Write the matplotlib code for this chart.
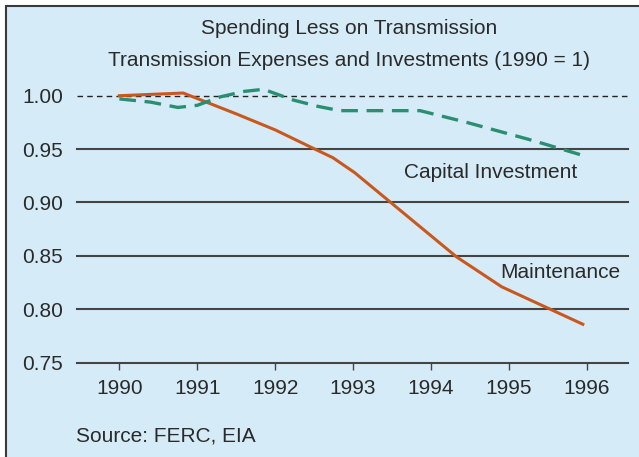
import matplotlib
matplotlib.use("Agg")
import matplotlib.pyplot as plt
from matplotlib.patches import Rectangle

plt.rcParams['font.family'] = ['Liberation Sans', 'DejaVu Sans']

# === Data ===
maint_years = [1990.0, 1990.82, 1991.5, 1992.0, 1992.51, 1992.74, 1993.02, 1994.33, 1994.91, 1995.95]
maint_vals  = [1.000, 1.0025, 0.983, 0.968, 0.950, 0.942, 0.928, 0.849, 0.821, 0.786]

cap_years = [1990.0, 1990.4, 1990.75, 1991.0, 1991.3, 1991.6, 1991.85, 1992.23, 1992.55, 1992.83,
             1993.3, 1993.86, 1994.46, 1995.31, 1996.0]
cap_vals  = [0.997, 0.994, 0.989, 0.991, 0.999, 1.004, 1.006, 0.996, 0.990, 0.986,
             0.986, 0.986, 0.975, 0.958, 0.943]

years = [1990, 1991, 1992, 1993, 1994, 1995, 1996]
yticks = [0.75, 0.80, 0.85, 0.90, 0.95, 1.00]

bg = '#D5ECF8'
txt = '#2a2a2a'
orange = '#C9581F'
teal = '#2A8F70'
W, H = 639, 457
FS = 15

fig = plt.figure(figsize=(W / 100, H / 100), dpi=100)
fig.patch.set_facecolor('white')
fig.patches.append(Rectangle((6 / W, -0.05), 1.1, 1 - 6 / H + 0.05, transform=fig.transFigure,
                             facecolor=bg, edgecolor='#3a3a3a', linewidth=1.5, zorder=-5))

ax = fig.add_axes([77 / W, 1 - 362.7 / H, (628 - 77) / W, (362.7 - 95.7) / H])
ax.set_zorder(2)
ax.set_facecolor('none')
ax.set_xlim(1989.456, 1996.53)
ax.set_ylim(0.75, 1.00)

# gridlines
for v in yticks:
    if v == 1.00:
        ax.axhline(v, color='#222222', lw=1.0, ls=(0, (4, 3)), zorder=1, clip_on=False)
    else:
        ax.axhline(v, color='#444444', lw=1.5, zorder=1, clip_on=False)

ax.plot(maint_years, maint_vals, color=orange, lw=2.2, zorder=3, clip_on=False,
        solid_joinstyle='round')
ax.plot(cap_years, cap_vals, color=teal, lw=2.4, ls=(0, (5, 2.6)), zorder=3, clip_on=False)

for s in ax.spines.values():
    s.set_visible(False)

ax.set_xticks(years)
ax.set_xticklabels([str(y) for y in years])
ax.set_yticks(yticks)
ax.set_yticklabels([f"{v:.2f}" for v in yticks])
ax.tick_params(axis='x', length=5, width=1.0, color='#444444', pad=7, labelsize=FS, labelcolor=txt)
ax.tick_params(axis='y', length=0, pad=10, labelsize=FS, labelcolor=txt)

# labels in pixel coords (origin top-left)
def px(x, y):
    return x / W, 1 - y / H

fig.text(*px(404, 173), "Capital Investment", fontsize=FS, color=txt, va='center', ha='left')
fig.text(*px(500, 273), "Maintenance", fontsize=FS, color=txt, va='center', ha='left')
fig.text(*px(349, 29), "Spending Less on Transmission", fontsize=FS, color=txt, va='center', ha='center')
fig.text(*px(349, 61), "Transmission Expenses and Investments (1990 = 1)", fontsize=FS, color=txt,
         va='center', ha='center')
fig.text(*px(76, 436), "Source: FERC, EIA", fontsize=FS, color=txt, va='center', ha='left')

fig.savefig("out.png", dpi=100)
